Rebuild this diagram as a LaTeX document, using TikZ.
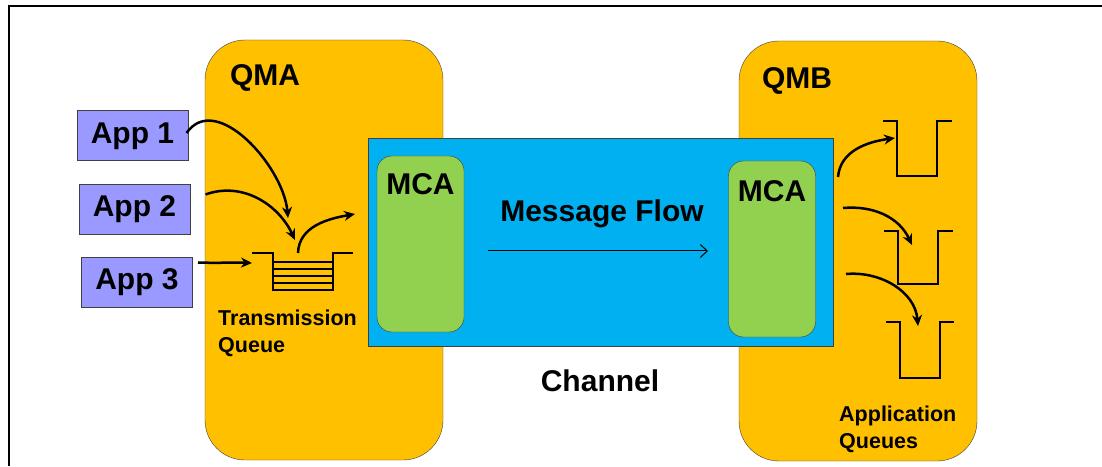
\documentclass[tikz,border=0pt]{standalone}
\usepackage{fontspec}
\setmainfont{Liberation Sans}
\usetikzlibrary{arrows.meta}

\definecolor{qmorange}{HTML}{FFC000}
\definecolor{chanblue}{HTML}{00B0F0}
\definecolor{mcagreen}{HTML}{92D050}
\definecolor{applilac}{HTML}{9999FF}
\definecolor{edgegray}{HTML}{404040}

\tikzset{
  qmbox/.style={draw=edgegray,fill=qmorange,rounded corners=40pt,
    minimum width=238pt,minimum height=420pt,inner sep=0pt},
  mcabox/.style={draw=edgegray,fill=mcagreen,rounded corners=15pt,
    minimum width=87pt,minimum height=176pt,inner sep=0pt},
  appbox/.style={draw=edgegray,line width=1pt,fill=applilac,
    minimum width=111pt,minimum height=50pt,inner sep=0pt,
    font=\fontsize{30}{34}\selectfont\bfseries},
  bigtext/.style={font=\fontsize{30}{34}\selectfont\bfseries,inner sep=0pt},
  smalltext/.style={font=\fontsize{21.5}{27}\selectfont\bfseries,inner sep=0pt,align=left},
  flowarrow/.style={line width=2.5pt,-{Stealth[length=11pt,width=10pt]}},
  queueline/.style={line width=2.5pt},
}

\begin{document}
\begin{tikzpicture}[x=1pt,y=1pt]
  \useasboundingbox (0,0) rectangle (1102,466);
  % frame
  \draw[line width=1.5pt] (1102,460) -- (9,460) -- (9,0);

  % queue managers
  \node[qmbox] (qma) at (324,216) {};
  \node[qmbox] (qmb) at (858,215) {};
  \node[bigtext] (qmalabel) at (265,388) {QMA};
  \node[bigtext] (qmblabel) at (797,385) {QMB};

  % channel with the two MCAs
  \node[draw=edgegray,fill=chanblue,minimum width=465pt,minimum height=208pt,
    inner sep=0pt] (chan) at (600.5,224) {};
  \node[mcabox] (mcaa) at (420.5,222) {};
  \node[mcabox] (mcab) at (772,217) {};
  \node[bigtext] (mcaatext) at (420.5,282) {MCA};
  \node[bigtext] (mcabtext) at (772,275) {MCA};
  \node[bigtext] (flowtext) at (602,252) {Message Flow};
  \coordinate (flowstart) at (488,215);
  \coordinate (flowend) at (708,215);
  \draw[line width=1pt,-{Straight Barb[length=7pt,width=13pt]}] (flowstart) -- (flowend);
  \node[bigtext] (chantext) at (600,85) {Channel};

  % applications
  \node[appbox] (app1) at (132.5,330) {App 1};
  \node[appbox] (app2) at (134.5,256.5) {App 2};
  \node[appbox] (app3) at (137,183.5) {App 3};

  % transmission queue
  \draw[queueline] (252,213) -- (273,213) -- (273,176) -- (333,176) -- (333,213) -- (353,213);
  \foreach \yq in {204,197,190,183}
    \draw[line width=2pt] (273,\yq) -- (333,\yq);
  \node[smalltext,anchor=north west] (tqtext) at (218,156) {Transmission\\Queue};
  \coordinate (tqin1) at (288,248);
  \coordinate (tqin2) at (295,226);
  \coordinate (tqin3) at (252,203);
  \coordinate (tqout) at (298,213);
  \coordinate (chanin) at (355,252);

  \draw[flowarrow] ([xshift=-2pt,yshift=3pt]app1.east) to[out=55,in=95] (tqin1);
  \draw[flowarrow] ([xshift=15pt,yshift=15pt]app2.east) to[out=20,in=115] (tqin2);
  \draw[flowarrow] ([xshift=5pt,yshift=20pt]app3.east) to[out=-2,in=178] (tqin3);
  \draw[flowarrow] (tqout) to[out=88,in=190] (chanin);

  % application queues
  \draw[queueline] (883,345) -- (897,345) -- (897,290) -- (937,290) -- (937,345) -- (952,345);
  \draw[queueline] (884,235) -- (898,235) -- (898,182) -- (938,182) -- (938,235) -- (953,235);
  \draw[queueline] (886,144) -- (900,144) -- (900,88) -- (940,88) -- (940,144) -- (954,144);
  \coordinate (aqout1) at (838,289);
  \coordinate (aqout2) at (843,258);
  \coordinate (aqout3) at (846,192);
  \coordinate (aqin1) at (895,328);
  \coordinate (aqin2) at (912,221);
  \coordinate (aqin3) at (918,140);
  \draw[flowarrow] (aqout1) to[out=85,in=188] (aqin1);
  \draw[flowarrow] (aqout2) to[out=5,in=115] (aqin2);
  \draw[flowarrow] (aqout3) to[out=5,in=95] (aqin3);
  \node[smalltext,anchor=north west] (aqtext) at (839,60) {Application\\Queues};
\end{tikzpicture}
\end{document}
